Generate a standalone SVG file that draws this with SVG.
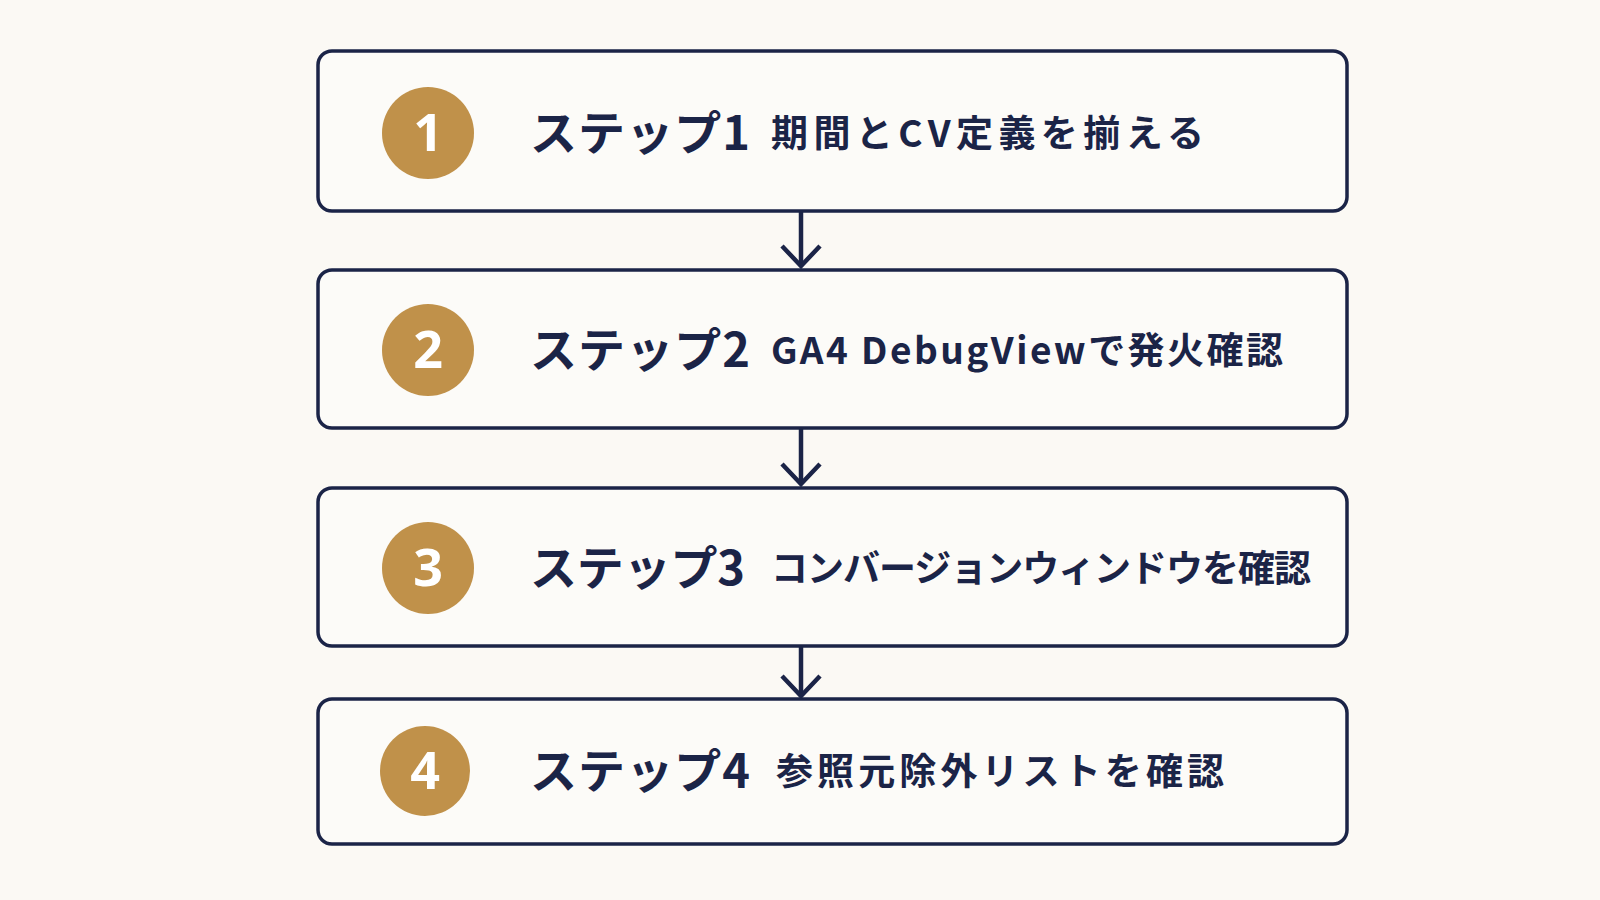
<svg xmlns="http://www.w3.org/2000/svg" width="1600" height="900" viewBox="0 0 1600 900">
<defs>
<style>
.box{fill:#fcfbf8;stroke:#1b2447;stroke-width:3.5}
.c{fill:#c0914a}
.n{font-family:"Noto Sans",sans-serif;font-weight:700;font-size:52px;fill:#fff;text-anchor:middle}
.s{font-family:"Noto Sans CJK JP",sans-serif;font-weight:700;font-size:47px;fill:#1b2447}
.d{font-family:"Noto Sans CJK JP",sans-serif;font-weight:700;font-size:37px;fill:#1b2447}
.a{stroke:#1b2447;stroke-width:4.5;fill:none}
</style>
</defs>
<rect width="1600" height="900" fill="#fbf9f4"/>
<g id="connectors">
<path class="a" d="M801,212 V265"/><path class="a" d="M782,246 L801,266 L820,246"/>
<path class="a" d="M801,429 V484"/><path class="a" d="M782,464 L801,484 L820,464"/>
<path class="a" d="M801,647 V695"/><path class="a" d="M782,676 L801,696 L820,676"/>
</g>
<g id="step1"><rect class="box" x="318" y="51" width="1029" height="160" rx="14"/><circle class="c" cx="428" cy="133" r="46"/><text class="n" x="428" y="151">1</text><text class="s" x="530" y="150" textLength="220">ステップ1</text><text class="d" x="771" y="147" textLength="433">期間とCV定義を揃える</text></g>
<g id="step2"><rect class="box" x="318" y="270" width="1029" height="158" rx="14"/><circle class="c" cx="428" cy="350" r="46"/><text class="n" x="428" y="368">2</text><text class="s" x="530" y="367" textLength="220">ステップ2</text><text class="d" x="771" y="364" textLength="512">GA4 DebugViewで発火確認</text></g>
<g id="step3"><rect class="box" x="318" y="488" width="1029" height="158" rx="14"/><circle class="c" cx="428" cy="568" r="46"/><text class="n" x="428" y="586">3</text><text class="s" x="530" y="585" textLength="215">ステップ3</text><text class="d" x="771" y="582" textLength="540">コンバージョンウィンドウを確認</text></g>
<g id="step4"><rect class="box" x="318" y="699" width="1029" height="145" rx="14"/><circle class="c" cx="425" cy="771" r="45"/><text class="n" x="425" y="789">4</text><text class="s" x="530" y="788" textLength="220">ステップ4</text><text class="d" x="776" y="785" textLength="448">参照元除外リストを確認</text></g>
</svg>
